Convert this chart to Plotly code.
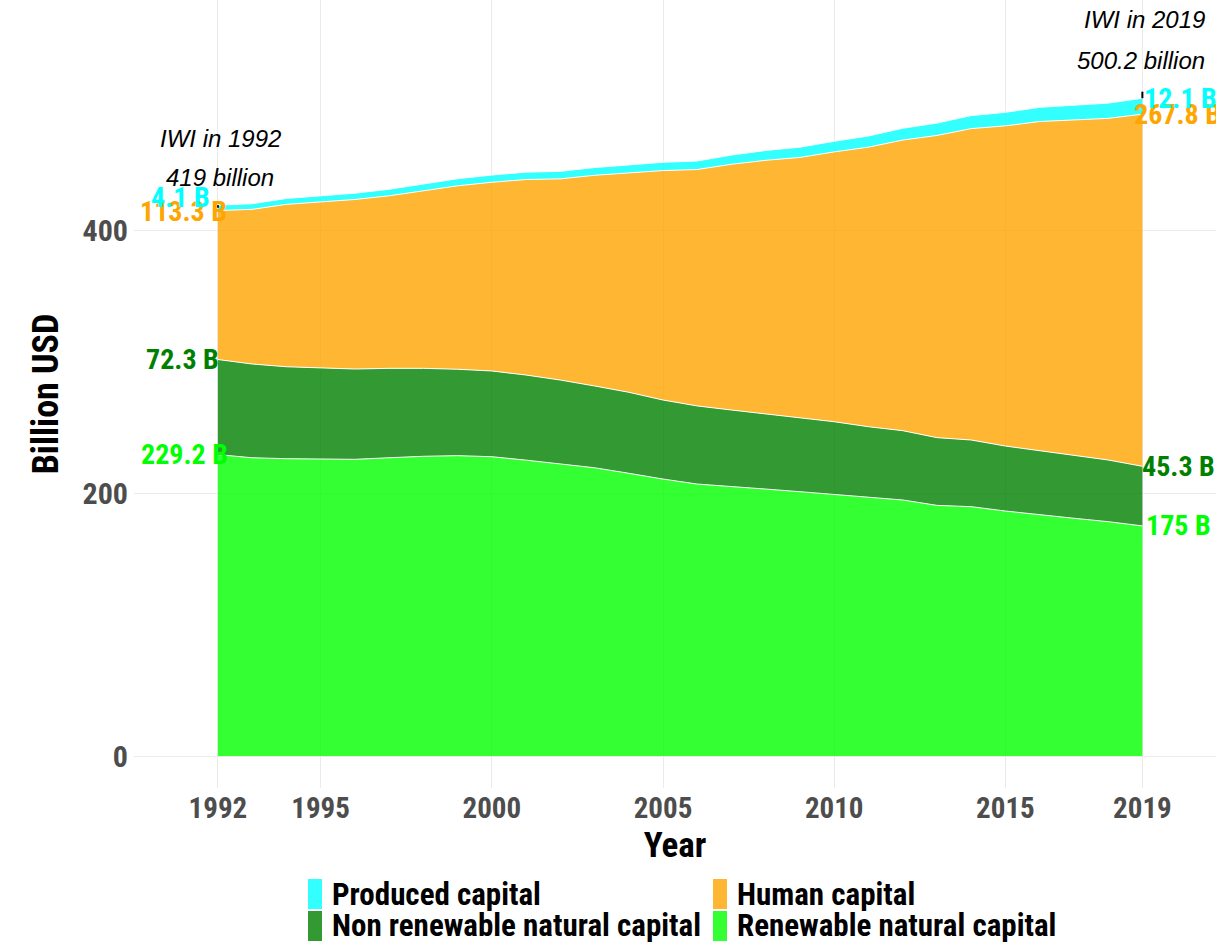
import plotly.graph_objects as go

years = list(range(1992, 2020))
renewable = [229.2, 226.8, 226.1, 226.1, 225.6, 226.8, 227.9, 228.4, 227.6, 225.0,
             222.1, 219.2, 215.0, 210.6, 206.8, 205.1, 203.0, 201.0, 199.0, 196.7,
             194.7, 190.6, 189.6, 186.3, 183.3, 180.8, 178.2, 175.0]
non_renewable = [72.3, 71.3, 69.9, 69.2, 68.7, 68.0, 66.9, 65.7, 65.2, 64.7,
                 63.8, 62.2, 61.6, 60.1, 59.4, 58.0, 57.1, 56.3, 55.2, 53.7,
                 52.7, 51.5, 50.7, 49.4, 48.9, 47.6, 46.9, 45.3]
human = [113.3, 117.6, 123.5, 126.1, 128.9, 131.2, 135.0, 139.5, 143.5, 148.7,
         153.0, 160.2, 166.8, 174.5, 179.8, 186.9, 192.9, 197.9, 205.2, 212.6,
         221.0, 229.8, 236.8, 243.5, 250.3, 255.4, 259.8, 267.8]
produced = [4.1, 4.3, 4.5, 4.6, 4.8, 5.0, 5.2, 5.4, 5.5, 5.6,
            5.7, 5.9, 6.1, 6.3, 6.5, 7.0, 7.5, 7.8, 8.1, 8.5,
            9.0, 9.4, 9.9, 10.3, 10.8, 11.2, 11.6, 12.1]

names = ["Renewable natural capital", "Non renewable natural capital",
         "Human capital", "Produced capital"]
series = [renewable, non_renewable, human, produced]
fills = ["rgba(0,255,0,0.8)", "rgba(0,128,0,0.8)", "rgba(255,165,0,0.8)", "rgba(0,255,255,0.8)"]
label_colors = ["#00FF00", "#008000", "#FFA500", "#00FFFF"]

BOLD = "Liberation Sans Narrow, Roboto Condensed, Liberation Sans, Arial"

W, H = 1216, 944
ML, MR, MT, MB = 134, 0, 0, 156
PW, PH = W - ML - MR, H - MT - MB
Y_ZERO_PX, PX_PER_UNIT = 756, 1.315


def px_x(px):
    return (px - ML) / PW


def px_y(py):
    return (H - MB - py) / PH


fig = go.Figure()
for name, vals, fc in zip(names, series, fills):
    fig.add_trace(go.Scatter(
        x=years, y=vals, name=name, mode="lines", stackgroup="one",
        line=dict(color="white", width=1), fillcolor=fc, showlegend=False,
    ))


def fmt(v):
    s = f"{v:.1f}"
    if s.endswith(".0"):
        s = s[:-2]
    return s + " B"


# end labels
cum_first = 0
cum_last = 0
left_shift = [0, 0, -1, 8]
left_x = [12, 3, 11, -6]
right_x = [2, -2, -10, 0]
for i, vals in enumerate(series):
    cum_first += vals[0]
    cum_last += vals[-1]
    fig.add_annotation(x=years[0], y=cum_first, text=fmt(vals[0]), showarrow=False,
                       xanchor="right", yanchor="middle", xshift=left_x[i], yshift=left_shift[i],
                       font=dict(family=BOLD, size=28, color=label_colors[i], weight="bold"))
    fig.add_annotation(x=years[-1], y=cum_last, text=fmt(vals[-1]), showarrow=False,
                       xanchor="left", yanchor="middle", xshift=right_x[i],
                       font=dict(family=BOLD, size=28, color=label_colors[i], weight="bold"))

total_first = sum(s[0] for s in series)
total_last = sum(s[-1] for s in series)

# short label connector segments
fig.add_shape(type="line", x0=years[0], x1=years[0], y0=total_first - 2, y1=total_first,
              line=dict(color="black", width=2))
fig.add_shape(type="line", x0=years[-1], x1=years[-1], y0=total_last, y1=total_last + 5,
              line=dict(color="black", width=2))

it_font = dict(family="Liberation Sans, Arial", size=24, color="black", style="italic")
fig.add_annotation(x=px_x(220), y=px_y(138), xref="paper", yref="paper",
                   text=f"IWI in {years[0]}", showarrow=False, xanchor="center",
                   yanchor="middle", font=it_font)
fig.add_annotation(x=px_x(220), y=px_y(177), xref="paper", yref="paper",
                   text=f"{total_first:.0f} billion", showarrow=False, xanchor="center",
                   yanchor="middle", font=it_font)
fig.add_annotation(x=px_x(1207), y=px_y(20), xref="paper", yref="paper",
                   text=f"IWI in {years[-1]}", showarrow=False, xanchor="right",
                   yanchor="middle", font=it_font)
fig.add_annotation(x=px_x(1207), y=px_y(60), xref="paper", yref="paper",
                   text=f"{total_last:.1f} billion", showarrow=False, xanchor="right",
                   yanchor="middle", font=it_font)

# legend (drawn manually: tall swatches in two columns)
legend_order = [3, 2, 1, 0]
col_px = [308, 713]
row_py = [894, 926]
for k, idx in enumerate(legend_order):
    cx = col_px[k % 2]
    cy = row_py[k // 2]
    fig.add_shape(type="rect", xref="paper", yref="paper",
                  x0=px_x(cx), x1=px_x(cx + 14), y0=px_y(cy + 15), y1=px_y(cy - 15),
                  fillcolor=fills[idx], line=dict(width=0))
    fig.add_annotation(x=px_x(cx + 22), y=px_y(cy), xref="paper", yref="paper",
                       text=names[idx], showarrow=False, xanchor="left", yanchor="middle",
                       font=dict(family=BOLD, size=31, color="black", weight="bold"))

y_bottom = -(H - MB - Y_ZERO_PX) / PX_PER_UNIT
y_top = Y_ZERO_PX / PX_PER_UNIT

fig.update_layout(
    width=W, height=H,
    margin=dict(l=ML, r=MR, t=MT, b=MB),
    plot_bgcolor="white", paper_bgcolor="white",
    showlegend=False,
    xaxis=dict(range=[1989.55, 2021.15], tickvals=[1992, 1995, 2000, 2005, 2010, 2015, 2019],
               showgrid=True, gridcolor="#ebebeb", gridwidth=1, zeroline=False,
               showline=False, ticks="", automargin=False, ticklabelstandoff=0,
               tickfont=dict(family=BOLD, size=29, color="#4d4d4d", weight="bold"),
               title=dict(text="Year", standoff=0,
                          font=dict(family=BOLD, size=35, color="black", weight="bold"))),
    yaxis=dict(range=[y_bottom, y_top], tickvals=[0, 200, 400],
               showgrid=True, gridcolor="#ebebeb", gridwidth=1, zeroline=False,
               showline=False, ticks="", automargin=False, ticklabelstandoff=5,
               tickfont=dict(family=BOLD, size=30, color="#4d4d4d", weight="bold"),
               title=dict(text="Billion USD", standoff=12,
                          font=dict(family=BOLD, size=36, color="black", weight="bold"))),
)

fig.write_html("out.html", config={"displayModeBar": False},
               post_script="document.body.style.margin='0px';document.body.style.padding='0px';")
